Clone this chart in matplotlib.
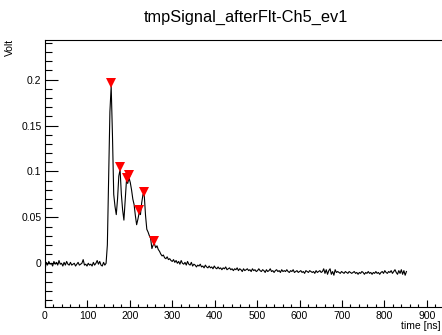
import numpy as np
import matplotlib
matplotlib.use("Agg")
import matplotlib.pyplot as plt
from matplotlib.ticker import MultipleLocator, FixedLocator

plt.rcParams['font.family'] = ['Liberation Sans', 'DejaVu Sans']

# sample times [ns] (3 ns sampling grid)
time_ns = np.arange(0, 853, 3)

# signal values [V]
volt = [
    -0.007, 0.001, -0.002, 0.002, -0.001, 0.000, -0.003, 0.002, -0.001, 0.001,
    -0.002, 0.003, -0.001, 0.000, -0.003, 0.001, -0.002, 0.002, -0.001, -0.002,
    0.001, -0.002, -0.001, 0.000, -0.003, -0.001, 0.001, -0.002, -0.001, 0.000,
    0.004, -0.002, -0.001, -0.003, 0.000, -0.002, -0.001, -0.003, 0.001, -0.002,
    0.000, 0.003, -0.001, 0.002, -0.002, -0.003, 0.001, -0.002, 0.000, 0.020,
    0.090, 0.165, 0.193, 0.140, 0.075, 0.062, 0.053, 0.070, 0.095, 0.102,
    0.075, 0.058, 0.047, 0.068, 0.090, 0.087, 0.093, 0.088, 0.080, 0.070,
    0.064, 0.052, 0.042, 0.048, 0.055, 0.053, 0.066, 0.075, 0.074, 0.052,
    0.037, 0.034, 0.030, 0.027, 0.016, 0.020, 0.021, 0.017, 0.019, 0.015,
    0.013, 0.010, 0.008, 0.009, 0.006, 0.005, 0.007, 0.004, 0.005, 0.003,
    0.002, 0.004, 0.001, 0.003, 0.000, 0.002, -0.001, 0.003, 0.000, -0.001,
    0.001, -0.002, 0.002, -0.001, -0.002, 0.001, -0.003, -0.001, -0.002, -0.004,
    -0.002, -0.003, -0.001, -0.004, -0.003, -0.005, -0.002, -0.004, -0.005, -0.003,
    -0.005, -0.004, -0.006, -0.003, -0.005, -0.006, -0.004, -0.006, -0.005, -0.007,
    -0.005, -0.006, -0.004, -0.007, -0.006, -0.005, -0.007, -0.006, -0.008, -0.006,
    -0.007, -0.005, -0.008, -0.006, -0.007, -0.009, -0.006, -0.008, -0.007, -0.006,
    -0.008, -0.007, -0.009, -0.006, -0.008, -0.007, -0.009, -0.008, -0.006, -0.008,
    -0.009, -0.007, -0.008, -0.010, -0.007, -0.009, -0.008, -0.006, -0.009, -0.008,
    -0.010, -0.008, -0.007, -0.009, -0.008, -0.010, -0.007, -0.009, -0.008, -0.009,
    -0.007, -0.009, -0.010, -0.008, -0.009, -0.007, -0.010, -0.009, -0.008, -0.010,
    -0.009, -0.008, -0.010, -0.009, -0.011, -0.008, -0.009, -0.010, -0.008, -0.009,
    -0.010, -0.009, -0.011, -0.008, -0.010, -0.009, -0.008, -0.010, -0.009, -0.006,
    -0.011, -0.007, -0.012, -0.008, -0.006, -0.012, -0.009, -0.013, -0.007, -0.010,
    -0.009, -0.010, -0.011, -0.009, -0.010, -0.011, -0.009, -0.010, -0.011, -0.009,
    -0.010, -0.011, -0.010, -0.009, -0.011, -0.010, -0.012, -0.010, -0.011, -0.009,
    -0.010, -0.012, -0.010, -0.011, -0.009, -0.011, -0.010, -0.012, -0.010, -0.011,
    -0.009, -0.011, -0.010, -0.012, -0.010, -0.009, -0.011, -0.008, -0.010, -0.011,
    -0.009, -0.010, -0.008, -0.011, -0.009, -0.007, -0.010, -0.012, -0.008, -0.011,
    -0.007, -0.012, -0.008, -0.013, -0.009,
]

# found peaks
peak_t = [155.6, 177.0, 193.5, 199.0, 222.7, 233.0, 258.0]
peak_v = [0.196, 0.105, 0.0926, 0.096, 0.058, 0.078, 0.0243]

y_major = [0, 0.05, 0.1, 0.15, 0.2]
y_labels = ["0", "0.05", "0.1", "0.15", "0.2"]
x_major = [0, 100, 200, 300, 400, 500, 600, 700, 800, 900]

W, H = 442, 335
fig = plt.figure(figsize=(W / 100, H / 100), dpi=100)
left, right_px = 45, 448
top, bottom = 40, 306.7
ax = fig.add_axes([left / W, (H - bottom) / H, (right_px - left) / W, (bottom - top) / H])

ax.plot(time_ns, volt, color='black', lw=0.8)
ax.plot(peak_t, peak_v, linestyle='none', marker='v', color='red',
        markersize=7, markeredgewidth=0)

ax.set_xlim(0, 950)
ax.set_ylim(-0.0473, 0.2432)

ax.yaxis.set_major_locator(FixedLocator(y_major))
ax.set_yticklabels(y_labels)
ax.yaxis.set_minor_locator(MultipleLocator(0.01))
ax.xaxis.set_major_locator(FixedLocator(x_major))
ax.xaxis.set_minor_locator(MultipleLocator(20))

ax.tick_params(axis='y', which='major', direction='in', length=9, width=0.8,
               labelsize=7.5, pad=2.5)
ax.tick_params(axis='y', which='minor', direction='in', length=5, width=0.8)
ax.tick_params(axis='x', which='major', direction='in', length=5, width=0.8,
               labelsize=7.5, pad=3)
ax.tick_params(axis='x', which='minor', direction='in', length=2.5, width=0.8)

for s in ['left', 'bottom', 'top', 'right']:
    ax.spines[s].set_linewidth(0.8)

fig.text(245.5 / W, 1 - 17 / H, "tmpSignal_afterFlt-Ch5_ev1", ha='center', va='center',
         fontsize=11.8)
fig.text(441 / W, 1 - 326 / H, "time [ns]", ha='right', va='center', fontsize=7.5)
fig.text(9.5 / W, 1 - 39 / H, "Volt", ha='center', va='top', rotation=90, fontsize=7.5)

fig.savefig("out.png", dpi=100)
